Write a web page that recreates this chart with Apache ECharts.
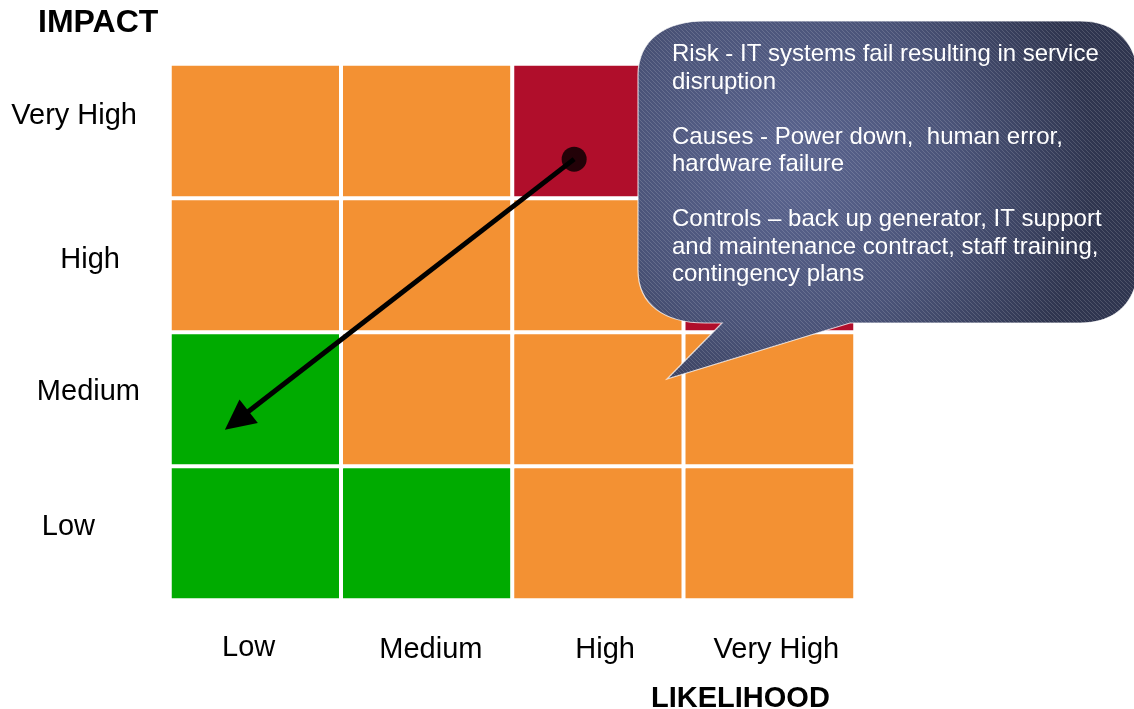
<!DOCTYPE html>
<html>
<head>
<meta charset="utf-8">
<title>Risk matrix</title>
<script src="https://cdn.jsdelivr.net/npm/echarts@6/dist/echarts.min.js"></script>
<style>
  html, body { margin: 0; padding: 0; background: #fff; }
  #chart { width: 1134px; height: 709px; }
</style>
</head>
<body>
<div id="chart"></div>
<script>
// axis categories
const likelihood = ['Low', 'Medium', 'High', 'Very High'];
const impact = ['Low', 'Medium', 'High', 'Very High'];

// risk level for each cell, rows go from Low impact up to Very High
// 1 = low (green), 2 = medium (orange), 3 = high (red)
const riskLevels = [
    [1, 1, 2, 2],
    [1, 2, 2, 2],
    [2, 2, 2, 3],
    [2, 2, 3, 3]
];

// where the risk sits now and where the controls move it (grid units, 0..4)
const riskNow = [2.36, 3.29];
const riskAfter = [0.39, 1.34];

const calloutLines = [
    'Risk - IT systems fail resulting in service',
    'disruption',
    '',
    'Causes - Power down,  human error,',
    'hardware failure',
    '',
    'Controls \u2013 back up generator, IT support',
    'and maintenance contract, staff training,',
    'contingency plans'
];

const FONT = '"Liberation Sans", Arial, sans-serif';

let cells = [];
riskLevels.forEach(function (row, i) {
    row.forEach(function (level, j) {
        cells.push([j, i, level]);
    });
});

// hatching for the callout
const hatch = document.createElement('canvas');
hatch.width = 4;
hatch.height = 4;
const hctx = hatch.getContext('2d');
hctx.strokeStyle = 'rgba(255,255,255,0.15)';
hctx.lineWidth = 1;
hctx.beginPath();
hctx.moveTo(0, 0);
hctx.lineTo(4, 4);
hctx.stroke();

const bubblePath = 'M638,75 C638,40 665,21 705,21 L1080,21 C1118,21 1138,45 1138,80 ' +
    'L1138,265 C1138,300 1118,323 1080,323 L850,323 L667,379 L722,323 L705,323 ' +
    'C665,323 638,305 638,270 Z';
echarts.graphic.registerShape('bubble', echarts.graphic.extendPath(bubblePath, {}));

let chart = echarts.init(document.getElementById('chart'));

// small nudges so the tick labels sit where the original slide put them
const yRich = {
    r0: {padding: [0, 46, 12, 0]},
    r1: {padding: [0, 1, 14, 0]},
    r2: {padding: [0, 21, 10, 0]},
    r3: {padding: [0, 4, 30, 0]}
};
const xRich = {
    r0: {padding: [0, 14, 0, 0]},
    r1: {padding: [2, 0, 0, 8]},
    r2: {padding: [2, 0, 0, 14]},
    r3: {padding: [2, 0, 0, 14]}
};
[yRich, xRich].forEach(function (rich) {
    Object.keys(rich).forEach(function (k) {
        rich[k].fontFamily = FONT;
        rich[k].fontSize = 29;
        rich[k].color = '#000';
    });
});

function tagLabel(value, index) {
    return '{r' + index + '|' + value + '}';
}

const option = {
    animation: false,
    title: [
        {
            text: 'IMPACT', left: 38, top: 7, padding: 0,
            textStyle: {fontFamily: FONT, fontSize: 32, fontWeight: 'bold', color: '#000'}
        },
        {
            text: 'LIKELIHOOD', left: 651, top: 684, padding: 0,
            textStyle: {fontFamily: FONT, fontSize: 29, fontWeight: 'bold', color: '#000'}
        }
    ],
    grid: {left: 170, top: 64, width: 685, height: 536, outerBoundsMode: 'none', containLabel: false},
    xAxis: [
        {
            type: 'category',
            data: likelihood,
            axisLine: {show: false},
            axisTick: {show: false},
            splitLine: {show: false},
            axisLabel: {
                interval: 0, margin: 33, hideOverlap: false,
                fontFamily: FONT, fontSize: 29, color: '#000',
                formatter: tagLabel, rich: xRich
            }
        },
        {type: 'value', min: 0, max: 4, show: false}
    ],
    yAxis: [
        {
            type: 'category',
            data: impact,
            axisLine: {show: false},
            axisTick: {show: false},
            splitLine: {show: false},
            axisLabel: {
                interval: 0, margin: 29, align: 'right',
                fontFamily: FONT, fontSize: 29, color: '#000',
                formatter: tagLabel, rich: yRich
            }
        },
        {type: 'value', min: 0, max: 4, show: false}
    ],
    visualMap: {
        type: 'piecewise',
        show: false,
        seriesIndex: 0,
        dimension: 2,
        pieces: [
            {value: 1, color: '#00AB00'},
            {value: 2, color: '#F39133'},
            {value: 3, color: '#B00E2B'}
        ]
    },
    series: [
        {
            type: 'heatmap',
            data: cells,
            itemStyle: {borderColor: '#fff', borderWidth: 4},
            emphasis: {disabled: true}
        },
        {
            type: 'lines',
            coordinateSystem: 'cartesian2d',
            xAxisIndex: 1,
            yAxisIndex: 1,
            z: 5,
            symbol: ['none', 'triangle'],
            symbolSize: 30,
            lineStyle: {color: '#000', width: 5, opacity: 1},
            data: [{coords: [riskNow, riskAfter]}]
        },
        {
            type: 'scatter',
            xAxisIndex: 1,
            yAxisIndex: 1,
            z: 6,
            symbolSize: 25,
            itemStyle: {color: '#000'},
            data: [riskNow]
        }
    ],
    graphic: [
        {
            type: 'bubble',
            z: 100,
            style: {
                fill: {
                    type: 'radial', x: 0.3, y: 0.4, r: 0.85,
                    colorStops: [
                        {offset: 0, color: '#5b6590'},
                        {offset: 0.55, color: '#4a5378'},
                        {offset: 1, color: '#2f354f'}
                    ]
                },
                stroke: 'rgba(255,255,255,0.75)',
                lineWidth: 1.2
            }
        },
        {
            type: 'bubble',
            z: 101,
            style: {fill: {image: hatch, repeat: 'repeat'}}
        },
        {
            type: 'text',
            z: 102,
            left: 672,
            top: 41,
            style: {
                text: calloutLines.join('\n'),
                fill: '#fff',
                fontFamily: FONT,
                fontSize: 24,
                lineHeight: 27.5
            }
        }
    ]
};

chart.setOption(option);

window.addEventListener('resize', function () {
    chart.resize();
});
</script>
</body>
</html>
